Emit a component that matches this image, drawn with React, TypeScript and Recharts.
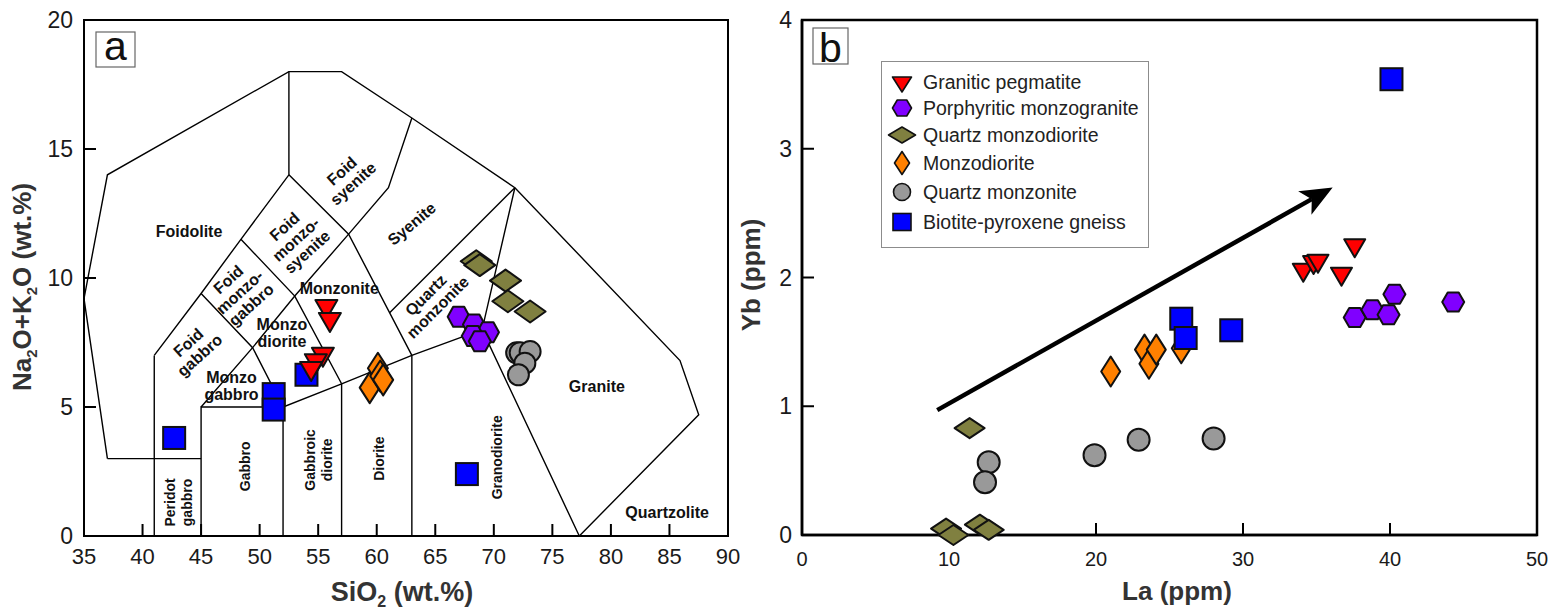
import React from "react";
import { ScatterChart, Scatter, XAxis, YAxis, ReferenceArea, ReferenceLine, Legend } from "recharts";

const FONT = '"Liberation Sans", Arial, Helvetica, sans-serif';

type Pt = { x: number; y: number };

// ---------- (a) TAS diagram (SiO2 vs Na2O+K2O) ----------
const tasXTicks = [35, 40, 45, 50, 55, 60, 65, 70, 75, 80, 85, 90];
const tasYTicks = [0, 5, 10, 15, 20];

// field boundaries, one polyline per entry
const tasBoundaries: Pt[][] = [
  [
    { x: 37, y: 3 }, { x: 35, y: 9.2 }, { x: 37, y: 14 }, { x: 52.5, y: 18 }, { x: 57, y: 18 },
    { x: 63, y: 16.2 }, { x: 71.8, y: 13.5 }, { x: 85.9, y: 6.8 }, { x: 87.5, y: 4.7 }, { x: 77.3, y: 0 },
  ],
  [{ x: 37, y: 3 }, { x: 45, y: 3 }],
  [{ x: 41, y: 0 }, { x: 41, y: 7 }],
  [{ x: 45, y: 0 }, { x: 45, y: 5 }, { x: 52, y: 5 }],
  [{ x: 45, y: 5 }, { x: 49.4, y: 7.3 }, { x: 53, y: 9.3 }, { x: 57.6, y: 11.7 }, { x: 61, y: 13.5 }, { x: 63, y: 16.2 }],
  [{ x: 41, y: 7 }, { x: 45, y: 9.4 }, { x: 48.4, y: 11.5 }, { x: 52.5, y: 14 }, { x: 52.5, y: 18 }],
  [{ x: 45, y: 9.4 }, { x: 49.4, y: 7.3 }, { x: 52, y: 5 }],
  [{ x: 48.4, y: 11.5 }, { x: 53, y: 9.3 }, { x: 57, y: 5.9 }],
  [{ x: 52.5, y: 14 }, { x: 57.6, y: 11.7 }, { x: 63, y: 7 }],
  [{ x: 52, y: 0 }, { x: 52, y: 5 }, { x: 57, y: 5.9 }, { x: 63, y: 7 }, { x: 69, y: 8 }],
  [{ x: 57, y: 0 }, { x: 57, y: 5.9 }],
  [{ x: 63, y: 0 }, { x: 63, y: 7 }],
  [{ x: 61.1, y: 8.65 }, { x: 71.8, y: 13.5 }],
  [{ x: 71.8, y: 13.5 }, { x: 69, y: 8 }, { x: 77.3, y: 0 }],
];

const tasFieldNames = [
  { x: 43.97, y: 11.8, label: "Foidolite", rot: 0 },
  { x: 53.1, y: 11.5, label: "Foid\nmonzo-\nsyenite", rot: -42 },
  { x: 57.5, y: 13.9, label: "Foid\nsyenite", rot: -42 },
  { x: 48.3, y: 9.45, label: "Foid\nmonzo-\ngabbro", rot: -42 },
  { x: 44.4, y: 7.25, label: "Foid\ngabbro", rot: -42 },
  { x: 56.8, y: 9.6, label: "Monzonite", rot: 0 },
  { x: 51.9, y: 7.85, label: "Monzo\ndiorite", rot: 0 },
  { x: 47.6, y: 5.8, label: "Monzo\ngabbro", rot: 0 },
  { x: 63.0, y: 12.1, label: "Syenite", rot: -40 },
  { x: 64.7, y: 9.1, label: "Quartz\nmonzonite", rot: -45 },
  { x: 78.8, y: 5.8, label: "Granite", rot: 0 },
  { x: 84.8, y: 0.9, label: "Quartzolite", rot: 0 },
  { x: 70.3, y: 3.05, label: "Granodiorite", rot: -90 },
  { x: 60.2, y: 3.0, label: "Diorite", rot: -90 },
  { x: 55.0, y: 2.95, label: "Gabbroic\ndiorite", rot: -90 },
  { x: 48.75, y: 2.7, label: "Gabbro", rot: -90 },
  { x: 43.1, y: 1.3, label: "Peridot\ngabbro", rot: -90 },
];

const tasPegmatite: Pt[] = [{ x: 55.7, y: 8.9 }, { x: 56.0, y: 8.4 }, { x: 55.4, y: 7.05 }, { x: 54.8, y: 6.8 }, { x: 54.4, y: 6.5 }];
const tasMonzogranite: Pt[] = [{ x: 67.0, y: 8.5 }, { x: 68.3, y: 8.2 }, { x: 69.5, y: 7.9 }, { x: 68.2, y: 7.75 }, { x: 68.8, y: 7.55 }];
const tasQzMonzodiorite: Pt[] = [{ x: 68.5, y: 10.65 }, { x: 68.8, y: 10.5 }, { x: 71.0, y: 9.9 }, { x: 71.2, y: 9.1 }, { x: 73.1, y: 8.7 }];
const tasMonzodiorite: Pt[] = [{ x: 59.4, y: 5.75 }, { x: 60.1, y: 6.5 }, { x: 60.3, y: 6.2 }, { x: 60.55, y: 6.05 }];
const tasQzMonzonite: Pt[] = [{ x: 71.95, y: 7.1 }, { x: 72.25, y: 7.1 }, { x: 73.1, y: 7.15 }, { x: 72.65, y: 6.7 }, { x: 72.1, y: 6.25 }];
const tasGneiss: Pt[] = [{ x: 42.7, y: 3.8 }, { x: 51.2, y: 5.5 }, { x: 51.2, y: 4.9 }, { x: 54.0, y: 6.25 }, { x: 67.7, y: 2.4 }];

// ---------- (b) La vs Yb ----------
const laTicks = [0, 10, 20, 30, 40, 50];
const ybTicks = [0, 1, 2, 3, 4];

const pegmatite: Pt[] = [{ x: 34.1, y: 2.06 }, { x: 34.8, y: 2.12 }, { x: 35.1, y: 2.13 }, { x: 36.7, y: 2.03 }, { x: 37.6, y: 2.25 }];
const monzogranite: Pt[] = [{ x: 37.6, y: 1.69 }, { x: 38.8, y: 1.75 }, { x: 39.9, y: 1.71 }, { x: 40.3, y: 1.87 }, { x: 44.3, y: 1.81 }];
const qzMonzodiorite: Pt[] = [{ x: 9.8, y: 0.05 }, { x: 10.3, y: 0.0 }, { x: 12.1, y: 0.08 }, { x: 12.7, y: 0.04 }, { x: 11.4, y: 0.83 }];
const monzodiorite: Pt[] = [{ x: 21.0, y: 1.27 }, { x: 23.3, y: 1.44 }, { x: 23.6, y: 1.33 }, { x: 24.1, y: 1.44 }, { x: 25.8, y: 1.45 }];
const qzMonzonite: Pt[] = [{ x: 12.7, y: 0.565 }, { x: 12.45, y: 0.41 }, { x: 19.9, y: 0.62 }, { x: 22.9, y: 0.74 }, { x: 28.0, y: 0.75 }];
const gneiss: Pt[] = [{ x: 25.8, y: 1.68 }, { x: 26.1, y: 1.53 }, { x: 29.2, y: 1.59 }, { x: 40.1, y: 3.54 }];

const trendArrow: Pt[] = [{ x: 9.2, y: 0.97 }, { x: 36.1, y: 2.7 }];

// ---------- symbols ----------
type Kind = "triangle" | "hexagon" | "wideDiamond" | "tallDiamond" | "circle" | "square";
type Sizes = Record<Kind, [number, number]>;

const sizeA: Sizes = { triangle: [22, 19], hexagon: [22, 20], wideDiamond: [31, 22], tallDiamond: [20, 31], circle: [21, 21], square: [22, 22] };
const sizeB: Sizes = { triangle: [21, 18], hexagon: [22, 19], wideDiamond: [30, 20], tallDiamond: [19, 30], circle: [22, 22], square: [22, 22] };
const sizeLegend: Sizes = { triangle: [19, 15], hexagon: [19, 16], wideDiamond: [27, 16], tallDiamond: [15, 23], circle: [17, 17], square: [18, 17] };

function drawMarker(kind: Kind, cx: number, cy: number, size: [number, number], fill: string, sw = 2) {
  const [w, h] = size;
  const common = { fill, stroke: "#111", strokeWidth: sw, strokeLinejoin: "round" as const };
  switch (kind) {
    case "triangle":
      return <polygon {...common} points={`${cx - w / 2},${cy - h / 3} ${cx + w / 2},${cy - h / 3} ${cx},${cy + (2 * h) / 3}`} />;
    case "hexagon":
      return (
        <polygon
          {...common}
          points={`${cx - w / 2},${cy} ${cx - w / 4},${cy - h / 2} ${cx + w / 4},${cy - h / 2} ${cx + w / 2},${cy} ${cx + w / 4},${cy + h / 2} ${cx - w / 4},${cy + h / 2}`}
        />
      );
    case "wideDiamond":
    case "tallDiamond":
      return <polygon {...common} points={`${cx - w / 2},${cy} ${cx},${cy - h / 2} ${cx + w / 2},${cy} ${cx},${cy + h / 2}`} />;
    case "circle":
      return <circle {...common} cx={cx} cy={cy} r={w / 2} />;
    default:
      return <rect {...common} x={cx - w / 2} y={cy - h / 2} width={w} height={h} strokeLinejoin="miter" />;
  }
}

const groups: { name: string; kind: Kind; fill: string }[] = [
  { name: "Granitic pegmatite", kind: "triangle", fill: "#ff0000" },
  { name: "Porphyritic monzogranite", kind: "hexagon", fill: "#8000ff" },
  { name: "Quartz monzodiorite", kind: "wideDiamond", fill: "#808040" },
  { name: "Monzodiorite", kind: "tallDiamond", fill: "#ff8000" },
  { name: "Quartz monzonite", kind: "circle", fill: "#999999" },
  { name: "Biotite-pyroxene gneiss", kind: "square", fill: "#0000ff" },
];

// drawing order (bottom to top): qz monzodiorite, monzodiorite, qz monzonite, gneiss, monzogranite, pegmatite
const drawOrder = [2, 3, 4, 5, 1, 0];
const tasSeries = [tasPegmatite, tasMonzogranite, tasQzMonzodiorite, tasMonzodiorite, tasQzMonzonite, tasGneiss];
const laYbSeries = [pegmatite, monzogranite, qzMonzodiorite, monzodiorite, qzMonzonite, gneiss];

const FieldName = (p: any) => {
  const { cx, cy, payload } = p;
  const lines: string[] = payload.label.split("\n");
  const fs = payload.rot === -90 ? 14 : 16;
  const lh = 17;
  const y0 = cy - ((lines.length - 1) * lh) / 2;
  return (
    <text
      transform={payload.rot ? `rotate(${payload.rot} ${cx} ${cy})` : undefined}
      textAnchor="middle"
      fontSize={fs}
      fontWeight="bold"
      fontFamily={FONT}
      fill="#111"
    >
      {lines.map((l, i) => (
        <tspan key={i} x={cx} y={y0 + i * lh} dominantBaseline="central">
          {l}
        </tspan>
      ))}
    </text>
  );
};

const TrendArrow = (p: any) => {
  const { x1, y1, x2, y2 } = p;
  const a = Math.atan2(y2 - y1, x2 - x1);
  const c = Math.cos(a), s = Math.sin(a);
  const len = 32, half = 13.5;
  const bx = x2 - len * c, by = y2 - len * s;
  const nx = bx + 8 * c, ny = by + 8 * s;
  return (
    <g>
      <line x1={x1} y1={y1} x2={nx} y2={ny} stroke="#000" strokeWidth={4.5} />
      <polygon
        fill="#000"
        points={`${x2},${y2} ${bx - s * half},${by + c * half} ${nx},${ny} ${bx + s * half},${by - c * half}`}
      />
    </g>
  );
};

const legendRowY = [21, 47, 74, 102, 131, 161];

const LegendBox = () => (
  <svg width={268} height={187} style={{ display: "block" }}>
    <rect x={0.5} y={0.5} width={267} height={186} fill="#fff" stroke="#8c8c8c" strokeWidth={1} />
    {groups.map((g, i) => (
      <g key={g.name}>
        {drawMarker(g.kind, 21, legendRowY[i], sizeLegend[g.kind], g.fill, 1.6)}
        <text x={42} y={legendRowY[i]} dominantBaseline="central" fontSize={19.5} fill="#222" fontFamily={FONT}>
          {g.name}
        </text>
      </g>
    ))}
  </svg>
);

const tickStyle = (fs: number) => ({ fontSize: fs, fill: "#1a1a1a", fontFamily: FONT });

export default function App() {
  return (
    <div style={{ position: "absolute", left: 0, top: 0, width: 1554, height: 614, background: "#fff", fontFamily: FONT }}>
      <div style={{ position: "absolute", left: 0, top: 0 }}>
        <ScatterChart width={740} height={614} margin={{ top: 20, right: 12, bottom: 0, left: 0 }}>
          <XAxis
            type="number"
            dataKey="x"
            domain={[35, 90]}
            ticks={tasXTicks}
            interval={0}
            height={78}
            tickSize={-12}
            tickMargin={24}
            stroke="#000"
            axisLine={{ strokeWidth: 2 }}
            tickLine={{ strokeWidth: 2 }}
            tick={tickStyle(22)}
          />
          <YAxis
            type="number"
            dataKey="y"
            domain={[0, 20]}
            ticks={tasYTicks}
            interval={0}
            width={84}
            tickSize={-12}
            tickMargin={23}
            stroke="#000"
            axisLine={{ strokeWidth: 2 }}
            tickLine={{ strokeWidth: 2 }}
            tick={tickStyle(23)}
          />
          <ReferenceArea x1={35} x2={90} y1={0} y2={20} fill="none" stroke="#000" strokeWidth={2} ifOverflow="visible" />
          {tasBoundaries.map((seg, i) => (
            <Scatter
              key={`bd${i}`}
              data={seg}
              line={{ stroke: "#000", strokeWidth: 1.4 }}
              shape={() => <g />}
              isAnimationActive={false}
              legendType="none"
            />
          ))}
          <Scatter data={tasFieldNames} shape={FieldName} isAnimationActive={false} legendType="none" />
          {drawOrder.map((gi) => (
            <Scatter
              key={groups[gi].name}
              name={groups[gi].name}
              data={tasSeries[gi]}
              shape={(p: any) => drawMarker(groups[gi].kind, p.cx, p.cy, sizeA[groups[gi].kind], groups[gi].fill)}
              isAnimationActive={false}
            />
          ))}
        </ScatterChart>
      </div>

      <div style={{ position: "absolute", left: 730, top: 0 }}>
        <ScatterChart width={824} height={614} margin={{ top: 20, right: 17, bottom: 0, left: 0 }}>
          <XAxis
            type="number"
            dataKey="x"
            domain={[0, 50]}
            ticks={laTicks}
            interval={0}
            height={79}
            tickSize={-12}
            tickMargin={29}
            stroke="#000"
            axisLine={{ strokeWidth: 2.5 }}
            tickLine={{ strokeWidth: 2 }}
            tick={tickStyle(20)}
          />
          <YAxis
            type="number"
            dataKey="y"
            domain={[0, 4]}
            ticks={ybTicks}
            interval={0}
            width={72}
            tickSize={-12}
            tickMargin={22}
            stroke="#000"
            axisLine={{ strokeWidth: 2.5 }}
            tickLine={{ strokeWidth: 2 }}
            tick={tickStyle(23)}
          />
          <ReferenceArea x1={0} x2={50} y1={0} y2={4} fill="none" stroke="#000" strokeWidth={2.5} ifOverflow="visible" />
          <ReferenceLine segment={trendArrow} shape={TrendArrow} ifOverflow="visible" />
          {drawOrder.map((gi) => (
            <Scatter
              key={groups[gi].name}
              name={groups[gi].name}
              data={laYbSeries[gi]}
              shape={(p: any) => drawMarker(groups[gi].kind, p.cx, p.cy, sizeB[groups[gi].kind], groups[gi].fill)}
              isAnimationActive={false}
            />
          ))}
          <Legend
            layout="vertical"
            align="center"
            verticalAlign="middle"
            wrapperStyle={{ left: 151, top: 61, width: 268, height: 187 }}
            content={() => <LegendBox />}
          />
        </ScatterChart>
      </div>

      <svg width={1554} height={614} style={{ position: "absolute", left: 0, top: 0, pointerEvents: "none" }} fontFamily={FONT}>
        <rect x={96} y={32} width={39} height={35} fill="#fff" stroke="#666" strokeWidth={1.2} />
        <text x={115.5} y={60} textAnchor="middle" fontSize={41} fill="#111">a</text>
        <rect x={813} y={28} width={35} height={36} fill="#fff" stroke="#666" strokeWidth={1.2} />
        <text x={830.5} y={61.5} textAnchor="middle" fontSize={41} fill="#111">b</text>

        <text x={402} y={601} textAnchor="middle" fontSize={27} fontWeight="bold" fill="#333">
          SiO<tspan fontSize={16} dy={6}>2</tspan>
          <tspan dy={-6}>{" (wt.%)"}</tspan>
        </text>
        <text transform="translate(31,287) rotate(-90)" textAnchor="middle" fontSize={26} fontWeight="bold" fill="#333">
          Na<tspan fontSize={15} dy={6}>2</tspan>
          <tspan dy={-6}>O+K</tspan>
          <tspan fontSize={15} dy={6}>2</tspan>
          <tspan dy={-6}>{"O (wt.%)"}</tspan>
        </text>
        <text x={1177} y={600} textAnchor="middle" fontSize={26} fontWeight="bold" fill="#333">La (ppm)</text>
        <text transform="translate(760,275) rotate(-90)" textAnchor="middle" fontSize={26} fontWeight="bold" fill="#333">Yb (ppm)</text>
      </svg>
    </div>
  );
}
